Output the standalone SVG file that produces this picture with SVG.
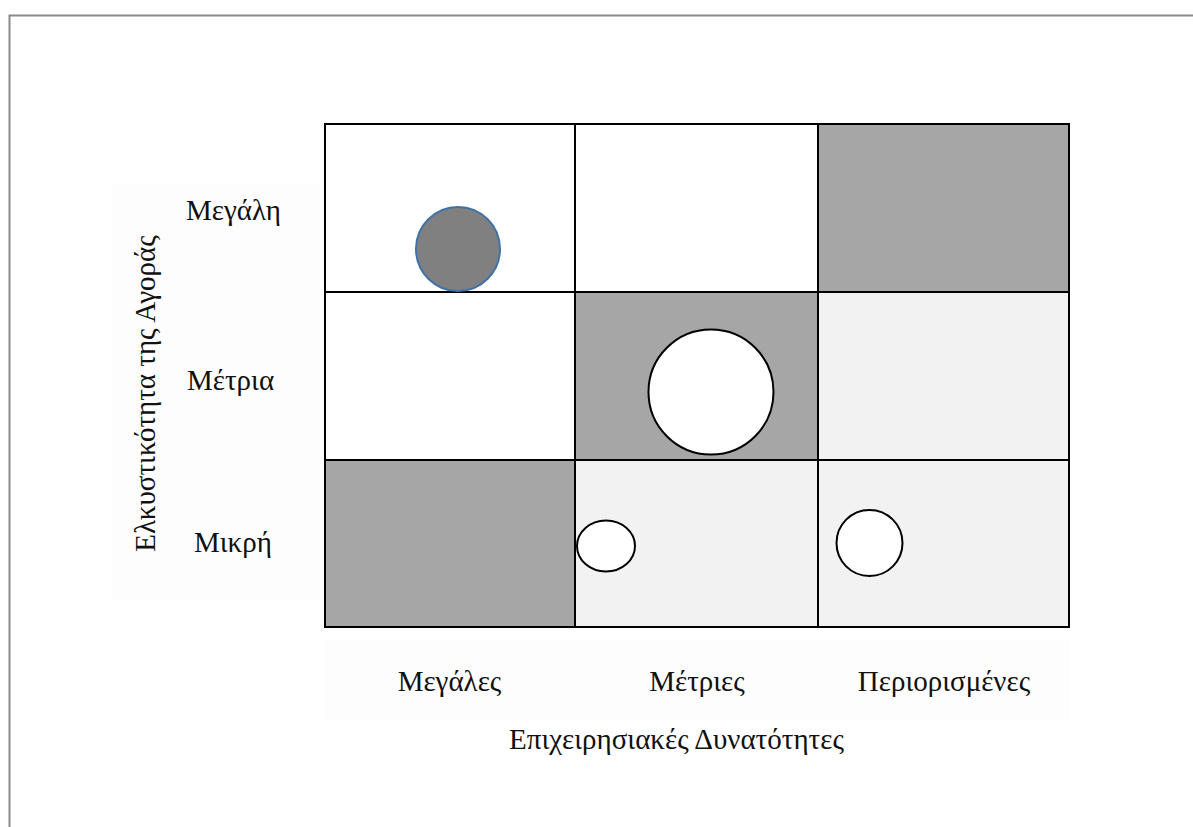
<svg xmlns="http://www.w3.org/2000/svg" width="1193" height="827" viewBox="0 0 1193 827">
  <style>
    .lbl { font-family: "Liberation Serif", "Times New Roman", serif; font-size: 29px; fill: #111; }
    .cell { stroke: #000; stroke-width: 2; }
    .dark { fill: #a6a6a6; }
    .light { fill: #f2f2f2; }
    .white { fill: #ffffff; }
    .bubble { fill: #ffffff; stroke: #000; stroke-width: 2; }
  </style>
  <rect width="1193" height="827" fill="#ffffff"/>
  <!-- page frame -->
  <path d="M9.5 827 V15.5 H1193" fill="none" stroke="#8a8a8a" stroke-width="2"/>

  <!-- faint label areas -->
  <rect x="112" y="183" width="208" height="417" fill="#fdfdfd"/>
  <rect x="325" y="640" width="744" height="80" fill="#fdfdfd"/>

  <!-- matrix cells -->
  <g id="grid">
    <rect id="c11" class="cell white" x="325" y="124" width="250" height="168"/>
    <rect id="c12" class="cell white" x="575" y="124" width="243" height="168"/>
    <rect id="c13" class="cell dark" x="818" y="124" width="251" height="168"/>
    <rect id="c21" class="cell white" x="325" y="292" width="250" height="168"/>
    <rect id="c22" class="cell dark" x="575" y="292" width="243" height="168"/>
    <rect id="c23" class="cell light" x="818" y="292" width="251" height="168"/>
    <rect id="c31" class="cell dark" x="325" y="460" width="250" height="167"/>
    <rect id="c32" class="cell light" x="575" y="460" width="243" height="167"/>
    <rect id="c33" class="cell light" x="818" y="460" width="251" height="167"/>
  </g>

  <!-- positions -->
  <g id="bubble-1"><circle cx="458" cy="249" r="42" fill="#808080" stroke="#3f72a6" stroke-width="2"/></g>
  <g id="bubble-2"><circle class="bubble" cx="711" cy="392" r="62.5"/></g>
  <g id="bubble-3"><ellipse class="bubble" cx="606" cy="546" rx="29" ry="25.5"/></g>
  <g id="bubble-4"><ellipse class="bubble" cx="869.5" cy="543" rx="33" ry="33"/></g>

  <!-- row labels -->
  <g id="row-labels">
    <text class="lbl" x="186" y="220">Μεγάλη</text>
    <text class="lbl" x="187" y="390">Μέτρια</text>
    <text class="lbl" x="194" y="552">Μικρή</text>
  </g>
  <g id="y-title">
    <text class="lbl" transform="translate(155 393.5) rotate(-90)" text-anchor="middle">Ελκυστικότητα της Αγοράς</text>
  </g>

  <!-- column labels -->
  <g id="col-labels">
    <text class="lbl" x="449.5" y="691" text-anchor="middle">Μεγάλες</text>
    <text class="lbl" x="697" y="691" text-anchor="middle">Μέτριες</text>
    <text class="lbl" x="944" y="691" text-anchor="middle">Περιορισμένες</text>
  </g>
  <g id="x-title">
    <text class="lbl" x="676.5" y="749" text-anchor="middle">Επιχειρησιακές Δυνατότητες</text>
  </g>
</svg>
